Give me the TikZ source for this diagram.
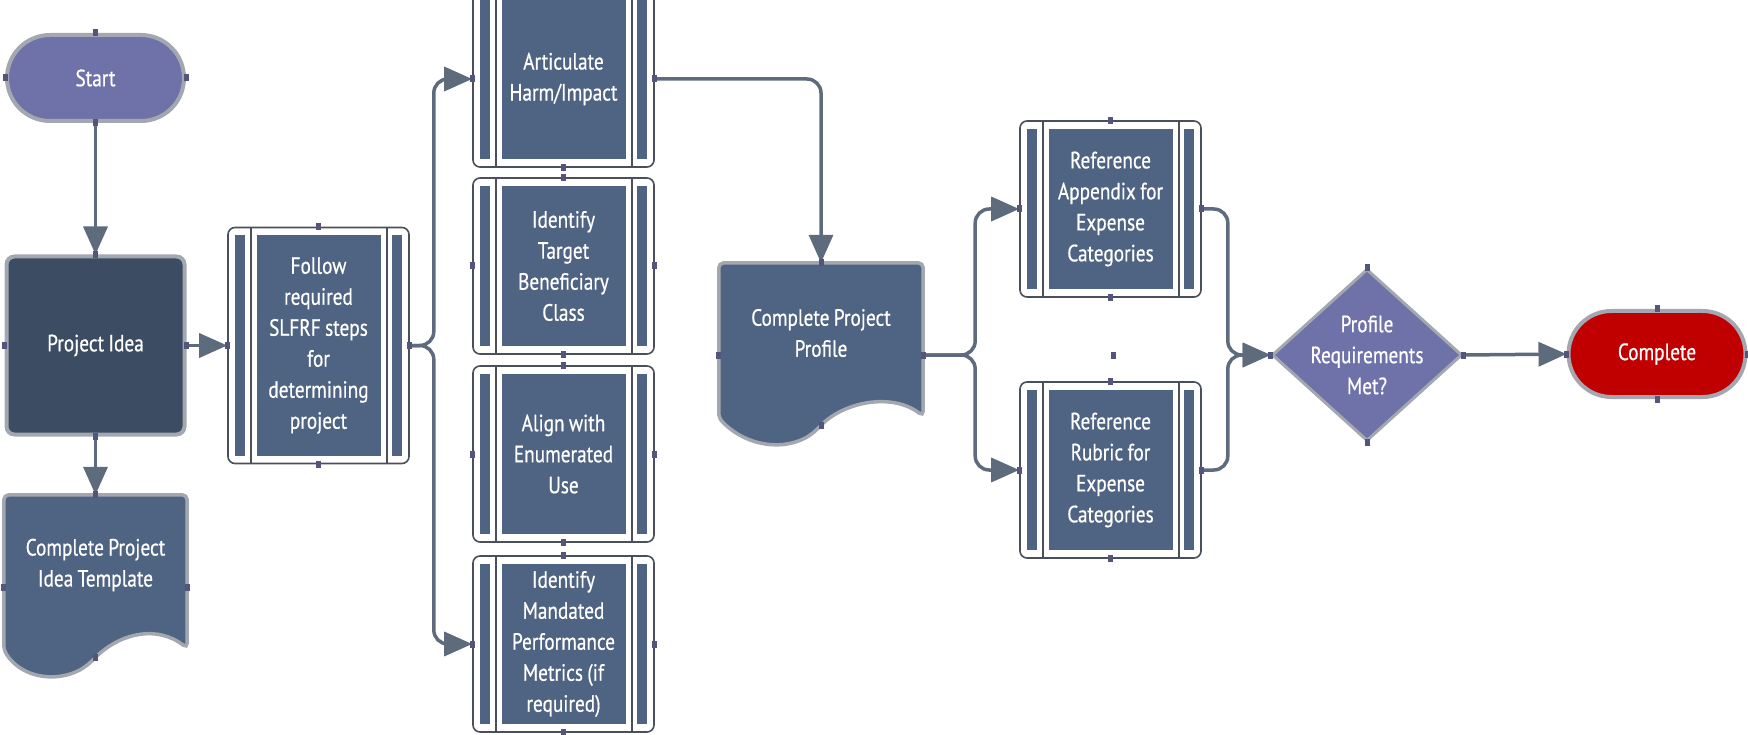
\documentclass[tikz,border=0pt]{standalone}
\usepackage{fontspec}
\setmainfont{PT Sans}[FakeStretch=0.82, WordSpace=0.85, FakeBold=0.6]
\usetikzlibrary{shapes.misc,shapes.geometric,arrows.meta,backgrounds}
\definecolor{boxc}{HTML}{4F6482}
\definecolor{ideac}{HTML}{3B4C63}
\definecolor{termc}{HTML}{6F71A9}
\definecolor{redc}{HTML}{C00000}
\definecolor{linec}{HTML}{5D6B7C}
\definecolor{rimc}{HTML}{A3A7B0}
\definecolor{darkc}{HTML}{4A4F5C}
\definecolor{ptc}{HTML}{54557A}
\newcommand\docpath[1]{%
  \filldraw[fill=boxc, draw=rimc, line width=3.5pt, rounded corners=5pt]
    ([shift={(0,15)}]#1.south west) -- (#1.north west) -- (#1.north east)
    -- ([shift={(0,13)}]#1.south east)
    .. controls ([shift={(-30,-10)}]#1.south east) and ([shift={(27,-2)}]#1.south) .. ([shift={(0,22)}]#1.south)
    .. controls ([shift={(-25,48)}]#1.south) and ([shift={(-70,48)}]#1.south) .. ([shift={(0,15)}]#1.south west) -- cycle;}
\begin{document}
\begin{tikzpicture}[x=1pt, y=-1pt, font=\fontsize{23.5}{31}\selectfont]
  \tikzstyle{base}=[text=white, align=flush center, inner sep=0pt]
  \tikzstyle{term}=[base, rounded rectangle, draw=rimc, line width=4pt, minimum width=177pt, minimum height=86pt]
  \tikzstyle{ideabox}=[base, rectangle, rounded corners=8pt, fill=ideac, draw=rimc, line width=4pt, minimum width=178pt, minimum height=178pt]
  \tikzstyle{docbox}=[base, minimum height=140pt]
  \tikzstyle{decision}=[base, diamond, fill=termc, draw=rimc, line width=3pt, minimum width=190pt, minimum height=172pt]
  \tikzstyle{subproc}=[base, rectangle, rounded corners=7pt, draw=darkc, line width=1.6pt, fill=white, minimum width=181pt, minimum height=176pt, text width=122pt, path picture={
    \fill[boxc, sharp corners] ([shift={(7,8)}]path picture bounding box.north west) rectangle ([shift={(17,-8)}]path picture bounding box.south west);
    \fill[boxc, sharp corners] ([shift={(29,8)}]path picture bounding box.north west) rectangle ([shift={(-28,-8)}]path picture bounding box.south east);
    \fill[boxc, sharp corners] ([shift={(-17,8)}]path picture bounding box.north east) rectangle ([shift={(-7,-8)}]path picture bounding box.south east);
    \draw[darkc, line width=1.4pt, sharp corners] ([xshift=23pt]path picture bounding box.north west) -- ([xshift=23pt]path picture bounding box.south west);
    \draw[darkc, line width=1.4pt, sharp corners] ([xshift=-22pt]path picture bounding box.north east) -- ([xshift=-22pt]path picture bounding box.south east);
  }]
  \tikzstyle{flow}=[draw=linec, line width=3.5pt, rounded corners=14pt, -{Triangle[length=28pt,width=24pt]}]

  \useasboundingbox (0,0) rectangle (1748,735);

  \node[term, fill=termc] (start) at (95.5,78) {Start};
  \node[ideabox] (idea) at (95.5,345.5) {Project Idea};
  \node[docbox, minimum width=183pt] (tmpl) at (95.5,565) {Complete Project\\Idea Template};
  \node[subproc, minimum height=236pt] (follow) at (318.5,345.5) {Follow\\required\\SLFRF steps\\for\\determining\\project};
  \node[subproc] (art) at (563.5,79) {Articulate\\Harm/Impact};
  \node[subproc] (tgt) at (563.5,266) {Identify\\Target\\Beneficiary\\Class};
  \node[subproc] (aln) at (563.5,454) {Align with\\Enumerated\\Use};
  \node[subproc] (mand) at (563.5,644) {Identify\\Mandated\\Performance\\Metrics (if\\required)};
  \node[docbox, minimum width=204pt] (prof) at (821,333) {Complete Project\\Profile};
  \node[subproc] (app) at (1110.5,209) {Reference\\Appendix for\\Expense\\Categories};
  \node[subproc] (rub) at (1110.5,470) {Reference\\Rubric for\\Expense\\Categories};
  \node[decision] (dia) at (1367,355) {\makebox[0pt]{\parbox{130pt}{\centering Profile\\Requirements\\Met?}}};
  \node[term, fill=redc] (comp) at (1657,354) {Complete};

  \begin{scope}[on background layer]
    \docpath{tmpl}
    \docpath{prof}
  \end{scope}

  \draw[flow] (start.south) -- (idea.north);
  \draw[flow] (idea.east) -- (follow.west);
  \draw[flow] (idea.south) -- (tmpl.north);
  \draw[flow] (follow.east) -- ++(24,0) |- (art.west);
  \draw[flow] (follow.east) -- ++(24,0) |- (mand.west);
  \draw[flow] (art.east) -| (prof.north);
  \draw[flow] ([yshift=-22pt]prof.east) -- ++(52,0) |- (app.west);
  \draw[flow] ([yshift=-22pt]prof.east) -- ++(52,0) |- (rub.west);
  \draw[flow] (app.east) -- ++(26,0) |- (dia.west);
  \draw[flow] (rub.east) -- ++(26,0) |- (dia.west);
  \draw[flow] (dia.east) -- (comp.west);

  \foreach \n in {start,idea,follow,art,tgt,aln,mand,app,rub,dia,comp}
    \foreach \a in {north,south,east,west}
      \fill[ptc] ([shift={(-2.5,-3.5)}]\n.\a) rectangle ++(5,7);
  \foreach \n in {tmpl,prof} {
    \fill[ptc] ([shift={(-2.5,-3.5)}]\n.north) rectangle ++(5,7);
    \foreach \a in {south,east,west}
      \fill[ptc] ([shift={(-2.5,18.5)}]\n.\a) rectangle ++(5,7);
  }
  \fill[ptc] (1110.5,351.5) rectangle ++(5,7);
\end{tikzpicture}
\end{document}
